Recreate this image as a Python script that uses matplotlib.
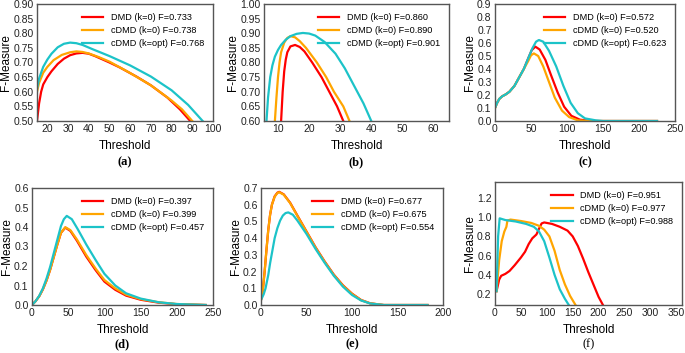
import matplotlib
matplotlib.use("Agg")
import matplotlib.pyplot as plt
import numpy as np

plt.rcParams['font.family'] = ['Liberation Sans', 'DejaVu Sans']

labels_a = ["DMD (k=0) F=0.733", "cDMD (k=0) F=0.738", "cDMD (k=opt) F=0.768"]
labels_b = ["DMD (k=0) F=0.860", "cDMD (k=0) F=0.890", "cDMD (k=opt) F=0.901"]
labels_c = ["DMD (k=0) F=0.572", "cDMD (k=0) F=0.520", "cDMD (k=opt) F=0.623"]
labels_d = ["DMD (k=0) F=0.397", "cDMD (k=0) F=0.399", "cDMD (k=opt) F=0.457"]
labels_e = ["DMD (k=0) F=0.677", "cDMD (k=0) F=0.675", "cDMD (k=opt) F=0.554"]
labels_f = ["DMD (k=0) F=0.951", "cDMD (k=0) F=0.977", "cDMD (k=opt) F=0.988"]

# Panel (a)
a_red_x = [15, 16, 17, 18, 20, 22, 25, 28, 31, 34, 37, 40, 43, 50, 55, 63, 70, 78, 84, 89]
a_red_y = [0.50, 0.56, 0.60, 0.625, 0.65, 0.67, 0.695, 0.713, 0.725, 0.731, 0.733, 0.730, 0.722, 0.700, 0.683, 0.652, 0.622, 0.580, 0.540, 0.500]
a_org_x = [15, 16, 18, 20, 23, 27, 31, 34, 37, 40, 45, 50, 60, 70, 80, 85, 90]
a_org_y = [0.60, 0.63, 0.665, 0.685, 0.708, 0.726, 0.735, 0.738, 0.736, 0.731, 0.718, 0.703, 0.664, 0.622, 0.570, 0.540, 0.500]
a_cyn_x = [15, 16, 18, 20, 22, 25, 28, 31, 34, 37, 42, 50, 60, 70, 80, 88, 95]
a_cyn_y = [0.61, 0.645, 0.685, 0.710, 0.730, 0.752, 0.764, 0.768, 0.766, 0.760, 0.745, 0.722, 0.690, 0.652, 0.605, 0.555, 0.500]

# Panel (b)
b_red_x = [11.0, 11.5, 12.0, 12.5, 13.0, 14.0, 15.5, 17.0, 18.5, 21.0, 24.0, 26.5, 29.0, 31.0]
b_red_y = [0.60, 0.70, 0.77, 0.81, 0.835, 0.855, 0.860, 0.853, 0.838, 0.800, 0.750, 0.700, 0.650, 0.600]
b_org_x = [9.0, 9.5, 10.0, 10.5, 11.0, 12.0, 13.0, 14.0, 15.5, 17.0, 19.0, 22.5, 25.5, 28.0, 31.0, 33.0]
b_org_y = [0.60, 0.68, 0.75, 0.80, 0.835, 0.868, 0.884, 0.890, 0.886, 0.873, 0.850, 0.800, 0.750, 0.700, 0.650, 0.600]
b_cyn_x = [6.3, 6.8, 7.5, 8.2, 9.0, 10.0, 11.0, 12.5, 14.0, 16.0, 18.0, 20.0, 22.0, 25.0, 28.5, 31.5, 34.5, 37.5, 40.0]
b_cyn_y = [0.60, 0.68, 0.75, 0.79, 0.820, 0.843, 0.860, 0.878, 0.890, 0.898, 0.901, 0.899, 0.892, 0.870, 0.830, 0.780, 0.720, 0.660, 0.600]

# Panel (c)
c_red_x = [0, 3, 6, 10, 15, 20, 27, 33, 40, 46, 51, 56, 62, 70, 78, 87, 96, 106, 118, 135, 160, 225]
c_red_y = [0.10, 0.14, 0.17, 0.19, 0.205, 0.225, 0.27, 0.33, 0.40, 0.48, 0.545, 0.572, 0.550, 0.470, 0.350, 0.220, 0.110, 0.040, 0.010, 0.000, 0.000, 0.000]
c_org_x = [0, 3, 6, 10, 15, 20, 27, 33, 40, 46, 50, 54, 60, 67, 75, 83, 93, 103, 115, 130, 160, 225]
c_org_y = [0.10, 0.14, 0.17, 0.19, 0.205, 0.225, 0.27, 0.33, 0.40, 0.46, 0.505, 0.520, 0.500, 0.420, 0.300, 0.180, 0.080, 0.030, 0.005, 0.000, 0.000, 0.000]
c_cyn_x = [0, 3, 6, 10, 15, 20, 27, 33, 40, 46, 52, 57, 61, 67, 75, 85, 95, 105, 115, 125, 140, 150, 225]
c_cyn_y = [0.10, 0.14, 0.17, 0.19, 0.205, 0.225, 0.27, 0.33, 0.40, 0.48, 0.560, 0.610, 0.623, 0.610, 0.540, 0.420, 0.270, 0.140, 0.060, 0.020, 0.005, 0.000, 0.000]

# Panel (d)
d_red_x = [0, 5, 10, 15, 20, 25, 30, 35, 40, 46, 53, 62, 75, 88, 100, 115, 130, 150, 175, 200, 240]
d_red_y = [0.000, 0.020, 0.045, 0.080, 0.125, 0.180, 0.245, 0.310, 0.370, 0.397, 0.380, 0.330, 0.248, 0.178, 0.120, 0.078, 0.048, 0.027, 0.012, 0.004, 0.000]
d_org_x = [0, 5, 10, 15, 20, 25, 30, 35, 40, 46, 53, 62, 75, 88, 100, 115, 130, 150, 175, 200, 240]
d_org_y = [0.000, 0.020, 0.045, 0.080, 0.125, 0.180, 0.245, 0.310, 0.370, 0.399, 0.384, 0.336, 0.256, 0.186, 0.128, 0.085, 0.053, 0.030, 0.014, 0.005, 0.000]
d_cyn_x = [0, 5, 10, 15, 20, 25, 30, 35, 40, 44, 48, 55, 63, 75, 88, 100, 115, 130, 150, 175, 200, 240]
d_cyn_y = [0.000, 0.020, 0.047, 0.085, 0.135, 0.195, 0.265, 0.335, 0.405, 0.440, 0.457, 0.440, 0.390, 0.310, 0.230, 0.160, 0.100, 0.060, 0.033, 0.014, 0.005, 0.000]

# Panel (e)
e_red_x = [0, 2, 4, 6, 8, 10, 12, 15, 18, 20, 25, 32, 40, 50, 60, 70, 80, 90, 100, 110, 120, 135, 183]
e_red_y = [0.030, 0.090, 0.200, 0.330, 0.450, 0.540, 0.600, 0.650, 0.672, 0.677, 0.662, 0.612, 0.535, 0.440, 0.345, 0.260, 0.182, 0.118, 0.068, 0.030, 0.010, 0.000, 0.000]
e_org_x = [0, 2, 4, 6, 8, 10, 12, 15, 18, 20, 25, 32, 40, 50, 60, 70, 80, 90, 100, 110, 120, 135, 183]
e_org_y = [0.030, 0.090, 0.200, 0.330, 0.450, 0.540, 0.600, 0.648, 0.670, 0.675, 0.660, 0.610, 0.533, 0.438, 0.343, 0.258, 0.180, 0.116, 0.066, 0.029, 0.010, 0.000, 0.000]
e_cyn_x = [0, 3, 5, 8, 10, 13, 15, 18, 21, 24, 27, 30, 35, 40, 50, 60, 70, 80, 90, 100, 110, 120, 135, 183]
e_cyn_y = [0.030, 0.065, 0.100, 0.180, 0.250, 0.340, 0.400, 0.460, 0.505, 0.535, 0.550, 0.554, 0.540, 0.505, 0.425, 0.335, 0.252, 0.175, 0.110, 0.060, 0.027, 0.009, 0.000, 0.000]

# Panel (f)
f_red_x = [3, 8, 12, 20, 28, 38, 50, 58, 65, 72, 80, 85, 90, 95, 110, 125, 140, 150, 160, 170, 180, 190, 200, 208]
f_red_y = [0.23, 0.35, 0.39, 0.41, 0.44, 0.50, 0.58, 0.64, 0.72, 0.78, 0.82, 0.88, 0.935, 0.945, 0.93, 0.90, 0.86, 0.80, 0.70, 0.57, 0.43, 0.30, 0.17, 0.09]
f_org_x = [3, 8, 13, 18, 22, 24, 30, 50, 70, 85, 95, 105, 115, 125, 135, 145, 155]
f_org_y = [0.23, 0.55, 0.75, 0.85, 0.90, 0.965, 0.975, 0.96, 0.94, 0.91, 0.87, 0.80, 0.65, 0.45, 0.30, 0.18, 0.09]
f_cyn_x = [3, 6, 9, 20, 40, 60, 75, 85, 95, 105, 115, 125, 135, 142]
f_cyn_y = [0.23, 0.80, 0.988, 0.97, 0.955, 0.93, 0.90, 0.85, 0.75, 0.58, 0.40, 0.25, 0.15, 0.09]

colors = ["#ff0000", "#ffa500", "#1cc3c8"]

W, H = 685, 353
fig = plt.figure(figsize=(W / 100, H / 100), dpi=100)

def px_axes(l, t, r, b):
    return fig.add_axes([l / W, 1 - b / H, (r - l) / W, (b - t) / H])

panels = [
    dict(box=(37, 4, 213, 121), data=[(a_red_x, a_red_y), (a_org_x, a_org_y), (a_cyn_x, a_cyn_y)],
         labels=labels_a, xlim=(15, 100), ylim=(0.5, 0.9), xticks=np.arange(20, 101, 10),
         yticks=np.arange(0.5, 0.901, 0.05), yfmt="{:.2f}", cap="(a)", bold=True, capy=162),
    dict(box=(264, 4, 449, 121), data=[(b_red_x, b_red_y), (b_org_x, b_org_y), (b_cyn_x, b_cyn_y)],
         labels=labels_b, xlim=(5.5, 65), ylim=(0.6, 1.0), xticks=np.arange(10, 61, 10),
         yticks=np.arange(0.6, 1.001, 0.05), yfmt="{:.2f}", cap="(b)", bold=True, capy=162),
    dict(box=(495, 4, 675, 121), data=[(c_red_x, c_red_y), (c_org_x, c_org_y), (c_cyn_x, c_cyn_y)],
         labels=labels_c, xlim=(0, 250), ylim=(0, 0.9), xticks=np.arange(0, 251, 50),
         yticks=np.arange(0, 0.901, 0.1), yfmt="{:.1f}", cap="(c)", bold=True, capy=162),
    dict(box=(32, 188, 213, 305), data=[(d_red_x, d_red_y), (d_org_x, d_org_y), (d_cyn_x, d_cyn_y)],
         labels=labels_d, xlim=(0, 250), ylim=(0, 0.6), xticks=np.arange(0, 251, 50),
         yticks=np.arange(0, 0.601, 0.1), yfmt="{:.1f}", cap="(d)", bold=True, capy=344),
    dict(box=(261, 188, 443, 305), data=[(e_red_x, e_red_y), (e_org_x, e_org_y), (e_cyn_x, e_cyn_y)],
         labels=labels_e, xlim=(0, 200), ylim=(0, 0.7), xticks=np.arange(0, 201, 50),
         yticks=np.arange(0, 0.701, 0.1), yfmt="{:.1f}", cap="(e)", bold=True, capy=344),
    dict(box=(495, 182, 682, 305), data=[(f_red_x, f_red_y), (f_org_x, f_org_y), (f_cyn_x, f_cyn_y)],
         labels=labels_f, xlim=(0, 361), ylim=(0.086, 1.366), xticks=np.arange(0, 351, 50),
         yticks=np.arange(0.2, 1.21, 0.2), yfmt="{:.1f}", cap="(f)", bold=False, capy=344),
]

for p in panels:
    ax = px_axes(*p["box"])
    for (x, y), c, lab in zip(p["data"], colors, p["labels"]):
        ax.plot(x, y, color=c, lw=1.6, label=lab)
    ax.set_xlim(*p["xlim"])
    ax.set_ylim(*p["ylim"])
    ax.set_xticks(p["xticks"])
    ax.set_xticklabels([str(int(round(v))) for v in p["xticks"]])
    ax.set_yticks(p["yticks"])
    ax.set_yticklabels([p["yfmt"].format(v) for v in p["yticks"]])
    ax.tick_params(length=0, labelsize=7.5, pad=2.5, colors="#222222")
    for s in ax.spines.values():
        s.set_color("#555555")
        s.set_linewidth(1.0)
    ax.set_xlabel("Threshold", fontsize=8.5, labelpad=4)
    ax.set_ylabel("F-Measure", fontsize=8.5, labelpad=1)
    ax.legend(loc="upper right", fontsize=6.6, frameon=False, handlelength=2.3,
              borderaxespad=0.6, labelspacing=0.45, handletextpad=0.8)
    l, t, r, b = p["box"]
    fig.text((l + r) / 2 / W, 1 - p["capy"] / H, p["cap"], ha="center", va="center",
             fontsize=9, family=["Liberation Serif", "DejaVu Serif"],
             fontweight="bold" if p["bold"] else "normal")

fig.savefig("out.png", dpi=100)
